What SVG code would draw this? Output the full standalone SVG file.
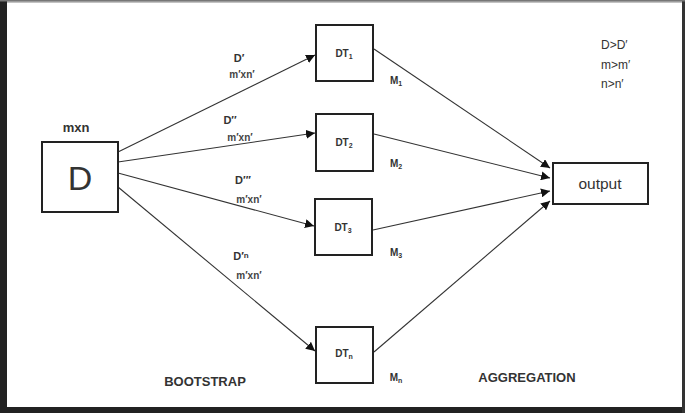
<svg xmlns="http://www.w3.org/2000/svg" width="685" height="413" viewBox="0 0 685 413">
<defs>
<marker id="ah" viewBox="0 0 10 10" refX="10" refY="5" markerWidth="9" markerHeight="9" markerUnits="userSpaceOnUse" orient="auto">
<path d="M0,0 L10,5 L0,10 z" fill="#111"/>
</marker>
<style>
.box{fill:#fff;stroke:#222;stroke-width:2}
.ln{stroke:#333;stroke-width:1.1;fill:none;marker-end:url(#ah)}
.t{font-family:"Liberation Sans",Arial,sans-serif;fill:#333}
.b{font-weight:bold}
.s{font-size:10px}
.mx{font-size:10px;font-weight:bold;fill:#444}
.lb{font-size:11px;font-weight:bold}
.sub{font-size:7px}
</style>
</defs>
<rect x="0" y="0" width="685" height="413" fill="#fff"/>
<rect x="3.5" y="2" width="679" height="407" fill="none" stroke="#888" stroke-width="1"/>
<rect x="0" y="0" width="7" height="413" fill="#222"/>
<rect x="0" y="407" width="685" height="6" fill="#222"/>
<rect x="682" y="0" width="3" height="413" fill="#333"/>
<rect x="0" y="0" width="685" height="1.5" fill="#777"/>

<g id="connectors">
<line class="ln" x1="118" y1="152" x2="315" y2="55"/>
<line class="ln" x1="118" y1="162" x2="315" y2="133"/>
<line class="ln" x1="118" y1="173" x2="314" y2="226"/>
<line class="ln" x1="118" y1="187" x2="315" y2="351"/>
<line class="ln" x1="374" y1="49" x2="550" y2="168"/>
<line class="ln" x1="374" y1="134" x2="550" y2="178"/>
<line class="ln" x1="373" y1="230" x2="550" y2="191"/>
<line class="ln" x1="374" y1="352" x2="550" y2="201"/>
</g>

<g id="node-D">
<rect class="box" x="42" y="142" width="76" height="70"/>
<text class="t" x="80" y="190" font-size="34" text-anchor="middle">D</text>
<text class="t b" x="76" y="132" font-size="13" text-anchor="middle">mxn</text>
</g>

<g id="node-DT1">
<rect class="box" x="316" y="25" width="57" height="56"/>
<text class="t b s" x="344" y="57" text-anchor="middle">DT<tspan class="sub" dy="2">1</tspan></text>
</g>
<g id="node-DT2">
<rect class="box" x="316" y="114" width="57" height="57"/>
<text class="t b s" x="344" y="146" text-anchor="middle">DT<tspan class="sub" dy="2">2</tspan></text>
</g>
<g id="node-DT3">
<rect class="box" x="315" y="199" width="57" height="56"/>
<text class="t b s" x="343" y="231" text-anchor="middle">DT<tspan class="sub" dy="2">3</tspan></text>
</g>
<g id="node-DTn">
<rect class="box" x="316" y="327" width="57" height="56"/>
<text class="t b s" x="344" y="357" text-anchor="middle">DT<tspan class="sub" dy="2">n</tspan></text>
</g>
<g id="node-output">
<rect class="box" x="553" y="163" width="95" height="41"/>
<text class="t" x="600" y="189" font-size="15.5" text-anchor="middle">output</text>
</g>

<g id="labels">
<text class="t lb" x="239" y="62" text-anchor="middle">D′</text>
<text class="t mx" x="242" y="78" text-anchor="middle">m′xn′</text>
<text class="t lb" x="230" y="124" text-anchor="middle">D′′</text>
<text class="t mx" x="240" y="141" text-anchor="middle">m′xn′</text>
<text class="t lb" x="243" y="184" text-anchor="middle">D′′′</text>
<text class="t mx" x="249" y="203" text-anchor="middle">m′xn′</text>
<text class="t lb" x="241" y="260" text-anchor="middle">D′<tspan font-size="8" dy="-2">n</tspan></text>
<text class="t mx" x="249" y="279" text-anchor="middle">m′xn′</text>
<text class="t b s" x="396" y="84" text-anchor="middle">M<tspan class="sub" dy="2">1</tspan></text>
<text class="t b s" x="396" y="167" text-anchor="middle">M<tspan class="sub" dy="2">2</tspan></text>
<text class="t b s" x="396" y="256" text-anchor="middle">M<tspan class="sub" dy="2">3</tspan></text>
<text class="t b s" x="396" y="381" text-anchor="middle">M<tspan class="sub" dy="2">n</tspan></text>
<text class="t b" x="205" y="386" font-size="13" text-anchor="middle">BOOTSTRAP</text>
<text class="t b" x="527" y="382" font-size="13" text-anchor="middle">AGGREGATION</text>
<text class="t" x="601" y="49" font-size="12">D&gt;D′</text>
<text class="t" x="601" y="69" font-size="12">m&gt;m′</text>
<text class="t" x="601" y="88" font-size="12">n&gt;n′</text>
</g>
</svg>
